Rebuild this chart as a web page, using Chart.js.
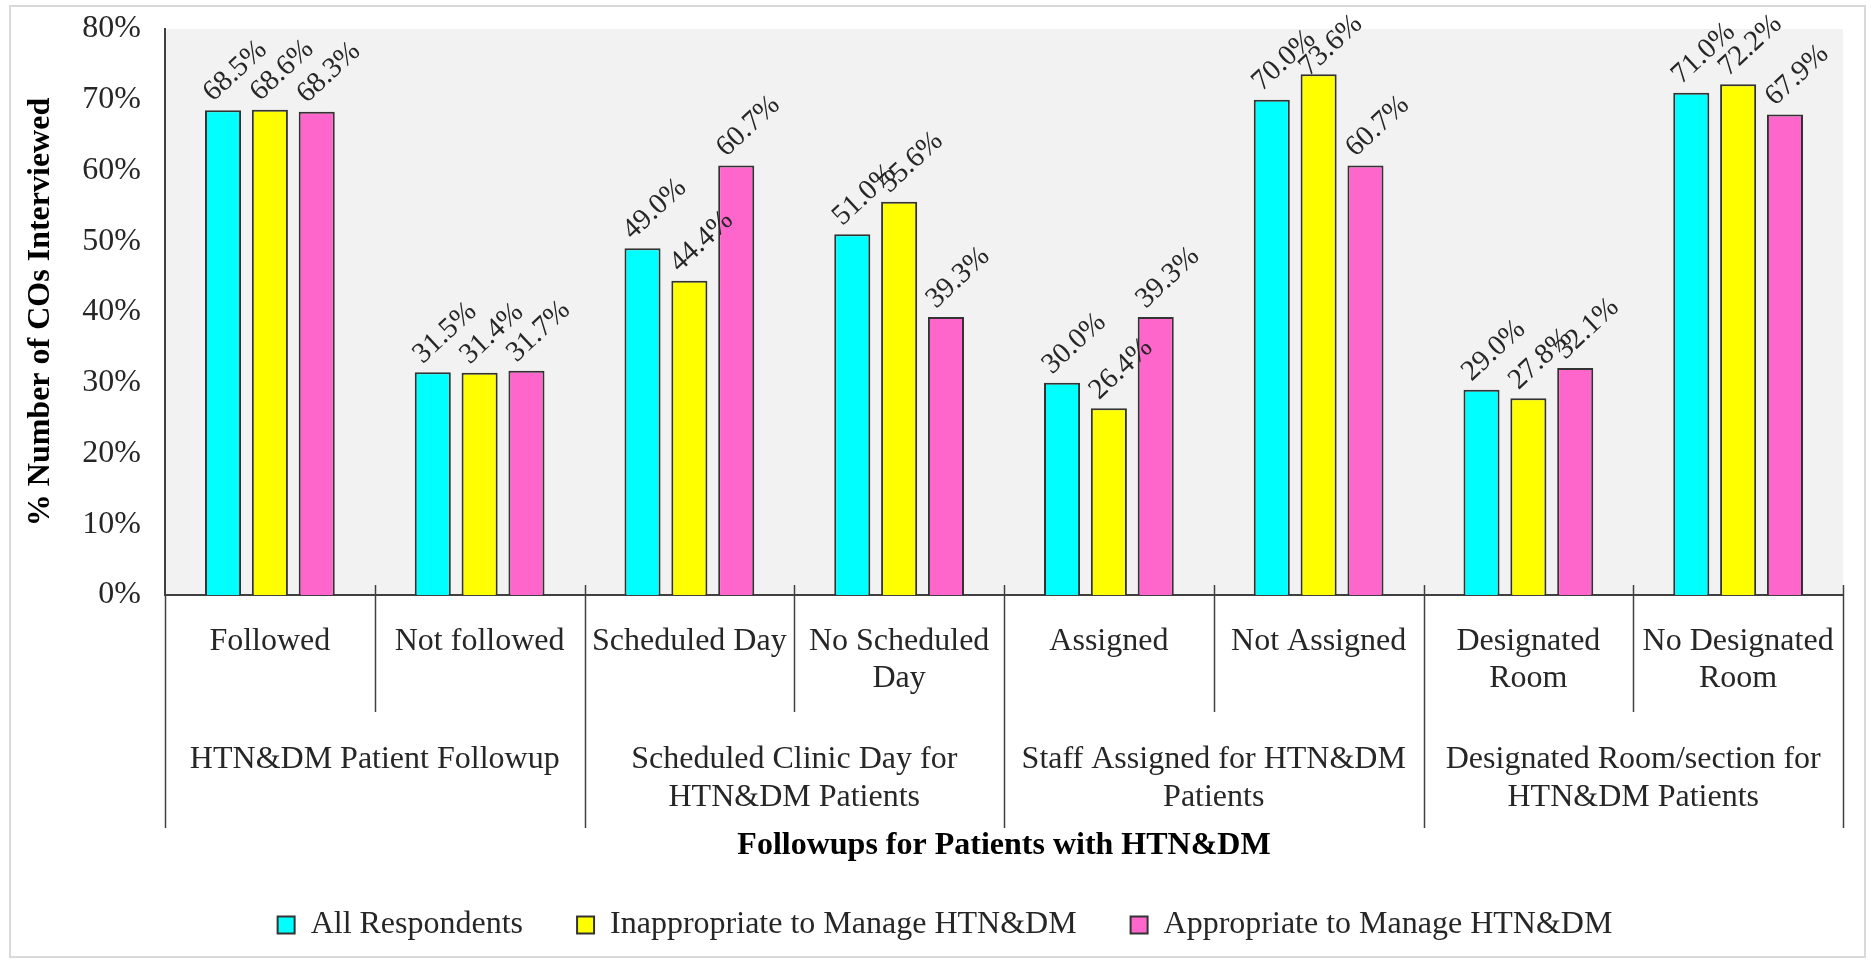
<!DOCTYPE html>
<html>
<head>
<meta charset="utf-8">
<script src="https://cdn.jsdelivr.net/npm/chart.js@4/dist/chart.umd.min.js"></script>
<style>
  html, body { margin: 0; padding: 0; background: #ffffff; }
  #wrap { width: 1871px; height: 961px; }
</style>
</head>
<body>
<div id="wrap"><canvas id="chart" width="1871" height="961"></canvas></div>
<script>
// Sub-categories (first axis row) and their parent groups (second axis row)
const categories = [
  ['Followed'], ['Not followed'],
  ['Scheduled Day'], ['No Scheduled', 'Day'],
  ['Assigned'], ['Not Assigned'],
  ['Designated', 'Room'], ['No Designated', 'Room']
];
const groups = [
  ['HTN&DM Patient Followup'],
  ['Scheduled Clinic Day for', 'HTN&DM Patients'],
  ['Staff Assigned for HTN&DM', 'Patients'],
  ['Designated Room/section for', 'HTN&DM Patients']
];

// Percent of COs interviewed per sub-category
const allRespondents   = [68.5, 31.5, 49.0, 51.0, 30.0, 70.0, 29.0, 71.0];
const inappropriate    = [68.6, 31.4, 44.4, 55.6, 26.4, 73.6, 27.8, 72.2];
const appropriate      = [68.3, 31.7, 60.7, 39.3, 39.3, 60.7, 32.1, 67.9];

const seriesNames = ['All Respondents', 'Inappropriate to Manage HTN&DM', 'Appropriate to Manage HTN&DM'];

const SERIF = "'Liberation Serif', 'Times New Roman', serif";
const INK = '#262626';
const LINE = '#404040';

// Frame around the whole figure and grey plot background
const backdrop = {
  id: 'backdrop',
  beforeDraw(chart) {
    const { ctx, chartArea: a } = chart;
    ctx.save();
    ctx.fillStyle = '#ffffff';
    ctx.fillRect(0, 0, chart.width, chart.height);
    ctx.strokeStyle = '#d9d9d9';
    ctx.lineWidth = 2;
    ctx.strokeRect(10, 6, chart.width - 16, chart.height - 10);
    ctx.fillStyle = '#f2f2f2';
    ctx.fillRect(a.left, a.top, a.right - a.left, a.bottom - a.top);
    ctx.restore();
  }
};

// Separators between sub-categories and between groups on the two-row axis
const axisDividers = {
  id: 'axisDividers',
  afterDraw(chart) {
    const { ctx, chartArea: a, scales } = chart;
    const x = scales.x, x2 = scales.x2;
    const n = categories.length;
    const subBottom = x.bottom;
    const groupBottom = x2.top + 116;
    ctx.save();
    ctx.strokeStyle = LINE;
    ctx.lineWidth = 1.5;
    for (let k = 0; k <= n; k++) {
      const px = Math.round(x.getPixelForValue(k - 0.5)) + 0.5;
      const isGroupEdge = k % 2 === 0;
      const y0 = k === 0 ? a.bottom : a.bottom - 10;
      const y1 = isGroupEdge ? groupBottom : subBottom;
      ctx.beginPath();
      ctx.moveTo(px, y0);
      ctx.lineTo(px, y1);
      ctx.stroke();
    }
    ctx.restore();
  }
};

// Rotated value labels above each bar
const valueLabels = {
  id: 'valueLabels',
  afterDatasetsDraw(chart) {
    const { ctx, chartArea: a } = chart;
    const ang = -43 * Math.PI / 180;
    ctx.save();
    ctx.font = '29px ' + SERIF;
    ctx.fillStyle = INK;
    ctx.textAlign = 'left';
    ctx.textBaseline = 'alphabetic';
    chart.data.datasets.forEach((ds, di) => {
      const meta = chart.getDatasetMeta(di);
      meta.data.forEach((bar, i) => {
        const text = ds.data[i].toFixed(1) + '%';
        const w = ctx.measureText(text).width;
        const sx = bar.x - 10;
        let sy = bar.y - 8;
        const rise = w * Math.sin(-ang) + 20 * Math.cos(-ang);
        const limit = a.top - 18;
        if (sy - rise < limit) sy += limit - (sy - rise);
        ctx.save();
        ctx.translate(sx, sy);
        ctx.rotate(ang);
        ctx.fillText(text, 0, 0);
        ctx.restore();
      });
    });
    ctx.restore();
  }
};

const barStyle = { borderColor: '#333333', borderWidth: 2, borderSkipped: 'bottom',
                   categoryPercentage: 0.67, barPercentage: 0.77 };

new Chart(document.getElementById('chart'), {
  type: 'bar',
  data: {
    labels: categories,
    datasets: [
      Object.assign({ label: seriesNames[0], data: allRespondents, backgroundColor: '#00ffff' }, barStyle),
      Object.assign({ label: seriesNames[1], data: inappropriate, backgroundColor: '#ffff00' }, barStyle),
      Object.assign({ label: seriesNames[2], data: appropriate, backgroundColor: '#ff66cc' }, barStyle)
    ]
  },
  options: {
    responsive: false,
    animation: false,
    devicePixelRatio: 1,
    layout: { padding: { top: 29, bottom: 10, left: 47, right: 28 } },
    plugins: {
      tooltip: { enabled: false },
      legend: {
        position: 'bottom',
        labels: {
          font: { family: SERIF, size: 32 },
          color: INK,
          boxWidth: 17,
          boxHeight: 17,
          padding: 54
        }
      }
    },
    scales: {
      y: {
        min: 0, max: 80,
        afterFit(s) {
          s.width = 118;
          s.paddingTop = 10;
          s.paddingBottom = 10;
        },
        grid: { display: false, drawTicks: false },
        border: { display: true, color: LINE, width: 2 },
        ticks: {
          stepSize: 10,
          padding: 24,
          color: INK,
          font: { family: SERIF, size: 32 },
          callback: v => v + '%'
        },
        title: {
          display: true,
          text: '% Number of COs Interviewed',
          color: '#000',
          font: { family: SERIF, size: 32, weight: 'bold', lineHeight: 1 },
          padding: { top: -22, bottom: 0 }
        }
      },
      x: {
        type: 'category',
        position: 'bottom',
        weight: 0,
        offset: true,
        afterFit(s) { s.height = 117; },
        grid: { display: false, drawTicks: false },
        border: { display: true, color: LINE, width: 2 },
        ticks: {
          autoSkip: false, maxRotation: 0, minRotation: 0,
          padding: 28,
          color: INK,
          font: { family: SERIF, size: 32, lineHeight: 1.15 }
        }
      },
      x2: {
        type: 'category',
        position: 'bottom',
        weight: 1,
        labels: groups,
        offset: true,
        afterFit(s) { s.height = 143; },
        grid: { display: false, drawTicks: false },
        border: { display: false },
        ticks: {
          autoSkip: false, maxRotation: 0, minRotation: 0,
          padding: 29,
          color: INK,
          font: { family: SERIF, size: 32, lineHeight: 1.18 }
        },
        title: {
          display: true,
          text: 'Followups for Patients with HTN&DM',
          color: '#000',
          font: { family: SERIF, size: 32, weight: 'bold', lineHeight: 0.6 },
          padding: { top: 0, bottom: 0 }
        }
      }
    }
  },
  plugins: [backdrop, axisDividers, valueLabels]
});
</script>
</body>
</html>
